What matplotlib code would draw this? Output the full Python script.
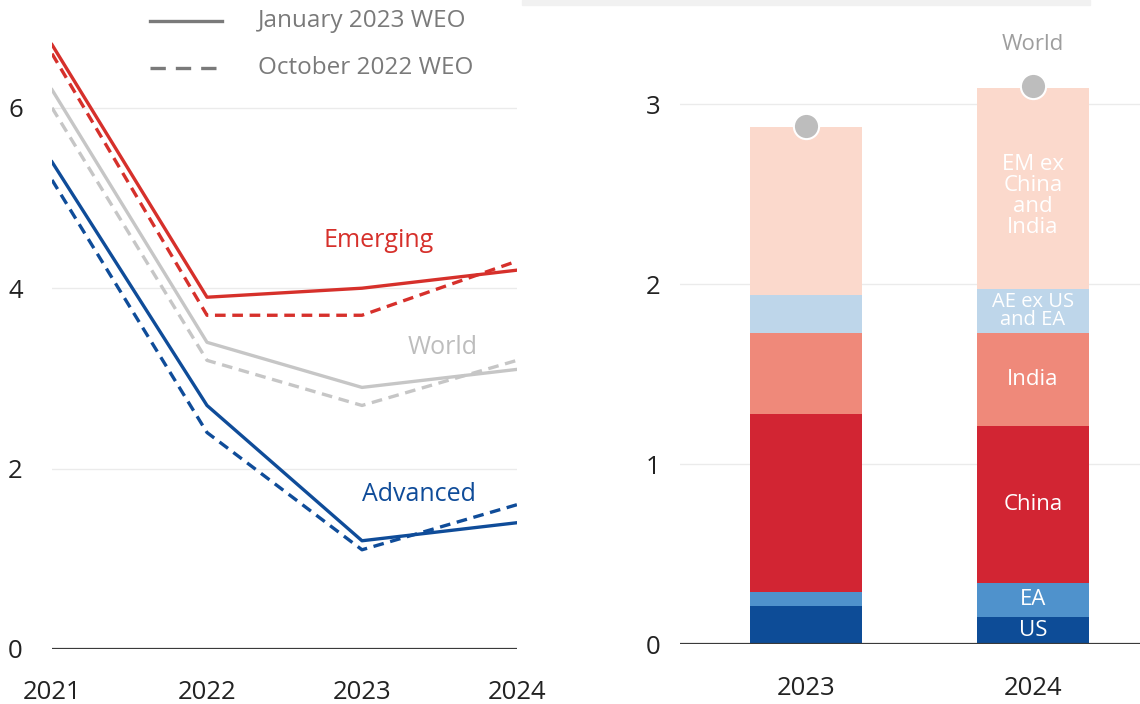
import matplotlib.pyplot as plt
from matplotlib.patches import Rectangle

plt.rcParams['font.family'] = ['Open Sans', 'DejaVu Sans']

# Growth projections, percent
years = [2021, 2022, 2023, 2024]
emerging_jan = [6.7, 3.9, 4.0, 4.2]
emerging_oct = [6.6, 3.7, 3.7, 4.3]
world_jan = [6.2, 3.4, 2.9, 3.1]
world_oct = [6.0, 3.2, 2.7, 3.2]
advanced_jan = [5.4, 2.7, 1.2, 1.4]
advanced_oct = [5.2, 2.4, 1.1, 1.6]

# Contributions to world growth, percentage points
bar_years = ['2023', '2024']
contrib_names = ['US', 'EA', 'China', 'India', 'AE ex US\nand EA', 'EM ex\nChina\nand\nIndia']
contrib_values = [
    [0.21, 0.15],
    [0.08, 0.19],
    [0.99, 0.87],
    [0.45, 0.52],
    [0.21, 0.24],
    [0.93, 1.12],
]
world_growth = [2.88, 3.10]

red = '#d6302b'
blue = '#0f4c99'
grey = '#c6c6c6'
bar_colors = ['#0d4c97', '#4f92cc', '#d22533', '#ef897a', '#bed6ea', '#fbd9cc']
tick_color = '#222222'

fig = plt.figure(figsize=(11.4, 7.04), dpi=100)
fig.patches.append(Rectangle((522 / 1140, 1 - 5 / 704), 568 / 1140, 5 / 704,
                             transform=fig.transFigure, color='#f1f1f1', zorder=0))

# ---- left: line chart ----
ax1 = fig.add_axes([52 / 1140, 55 / 704, 465 / 1140, 631.4 / 704])
dash = (0, (3.2, 2.0))
ax1.plot(years, world_oct, color=grey, lw=2.4, ls=dash)
ax1.plot(years, world_jan, color=grey, lw=2.4)
ax1.plot(years, advanced_oct, color=blue, lw=2.4, ls=dash)
ax1.plot(years, advanced_jan, color=blue, lw=2.4)
ax1.plot(years, emerging_oct, color=red, lw=2.4, ls=dash)
ax1.plot(years, emerging_jan, color=red, lw=2.4)

ax1.set_xlim(2021, 2024)
ax1.set_ylim(0, 7)
ax1.set_yticks([0, 2, 4, 6])
ax1.set_xticks(years)
ax1.grid(axis='y', color='#ebebeb', lw=1)
ax1.axhline(0, color='#3a3a3a', lw=1.6)
ax1.set_axisbelow(True)
for s in ax1.spines.values():
    s.set_visible(False)
ax1.tick_params(axis='y', length=0, pad=21, labelsize=18.5, labelcolor=tick_color)
ax1.tick_params(axis='x', length=0, pad=22, labelsize=18.5, labelcolor=tick_color)

ax1.text(2023.11, 4.53, 'Emerging', color=red, fontsize=18, ha='center', va='center')
ax1.text(2023.52, 3.34, 'World', color='#bdbdbd', fontsize=18, ha='center', va='center')
ax1.text(2023.37, 1.71, 'Advanced', color=blue, fontsize=18, ha='center', va='center')

# legend drawn in figure coordinates
fig.add_artist(plt.Line2D([150 / 1140, 222 / 1140], [1 - 21 / 704] * 2,
                          color='#7a7a7a', lw=2.4, transform=fig.transFigure))
fig.add_artist(plt.Line2D([150 / 1140, 222 / 1140], [1 - 68 / 704] * 2,
                          color='#7a7a7a', lw=2.4, ls=(0, (4.6, 3.0)),
                          transform=fig.transFigure))
fig.text(258 / 1140, 1 - 21 / 704, 'January 2023 WEO', color='#7a7a7a',
         fontsize=17.5, va='center')
fig.text(258 / 1140, 1 - 68 / 704, 'October 2022 WEO', color='#7a7a7a',
         fontsize=17.5, va='center')

# ---- right: stacked contributions ----
ax2 = fig.add_axes([680 / 1140, 60 / 704, 460 / 1140, 630 / 704])
xpos = [0, 1]
bottom = [0.0, 0.0]
for name, vals, col in zip(contrib_names, contrib_values, bar_colors):
    ax2.bar(xpos, vals, bottom=bottom, width=0.493, color=col, zorder=2)
    mid = bottom[1] + vals[1] / 2
    if name.startswith('AE'):
        size, spacing = 14.5, 0.9
    elif name.startswith('EM'):
        size, spacing = 16, 1.0
        mid -= 0.04
    else:
        size, spacing = 16, 1.0
    ax2.text(1, mid, name, color='white', fontsize=size, ha='center',
             va='center', linespacing=spacing, zorder=3)
    bottom = [b + v for b, v in zip(bottom, vals)]

ax2.scatter(xpos, world_growth, s=330, color='#bdbdbd', edgecolor='white',
            linewidth=1.5, zorder=4, clip_on=False)
ax2.text(1, 3.33, 'World', color='#9e9e9e', fontsize=16, ha='center', va='center')

ax2.set_xlim(-0.555, 1.471)
ax2.set_ylim(0, 3.5)
ax2.set_yticks([0, 1, 2, 3])
ax2.set_xticks(xpos)
ax2.set_xticklabels(bar_years)
ax2.grid(axis='y', color='#ebebeb', lw=1)
ax2.axhline(0, color='#3a3a3a', lw=1.6, zorder=3)
ax2.set_axisbelow(True)
for s in ax2.spines.values():
    s.set_visible(False)
ax2.tick_params(axis='y', length=0, pad=14, labelsize=18.5, labelcolor=tick_color)
ax2.tick_params(axis='x', length=0, pad=23, labelsize=18.5, labelcolor=tick_color)

fig.savefig('out.png', dpi=100, facecolor='white')
